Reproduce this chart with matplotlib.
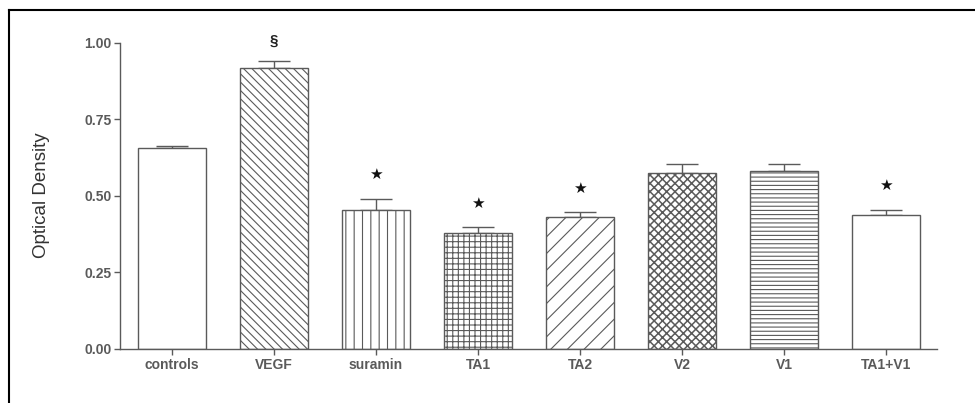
import numpy as np
import matplotlib
matplotlib.use("Agg")
import matplotlib.pyplot as plt
from matplotlib.lines import Line2D

groups = ["controls", "VEGF", "suramin", "TA1", "TA2", "V2", "V1", "TA1+V1"]
means = [0.656, 0.918, 0.453, 0.377, 0.429, 0.574, 0.580, 0.436]
sem = [0.007, 0.023, 0.037, 0.020, 0.017, 0.029, 0.023, 0.017]
marks = ["", "§", "★", "★", "★", "", "", "★"]
hatches = [None, "\\\\\\\\", "||", "+++", "//", "xxxx", "----", None]
yticks = [0.00, 0.25, 0.50, 0.75, 1.00]

plt.rcParams["font.family"] = ["Liberation Sans", "DejaVu Sans"]

grey = "#5a5a5a"
fig = plt.figure(figsize=(9.75, 4.03), dpi=100)
ax = fig.add_axes([0.1231, 0.1347, 0.8379, 0.7598])

x = np.arange(len(groups))
for i in x:
    # the cross-hatched bar is drawn a bit heavier, as in the original
    plt.rcParams["hatch.linewidth"] = 1.1 if hatches[i] == "xxxx" else 0.8
    ax.bar(i, means[i], width=0.67, color="white", edgecolor=grey,
           hatch=hatches[i], linewidth=1.0, zorder=2)
ax.errorbar(x, means, yerr=[np.zeros(len(sem)), sem], fmt="none",
            ecolor=grey, elinewidth=1.0, capsize=11.5, capthick=1.0, zorder=1)

for i in x:
    if marks[i] == "§":
        ax.annotate(marks[i], (i, means[i] + sem[i]), xytext=(0, 9),
                    textcoords="offset points", ha="center", va="bottom",
                    fontsize=11, fontweight="bold", color="#222222")
    elif marks[i]:
        ax.annotate(marks[i], (i, means[i] + sem[i]), xytext=(0, 12),
                    textcoords="offset points", ha="center", va="bottom",
                    fontsize=11, color="#111111", family="DejaVu Sans")

ax.set_xlim(-0.51, 7.5)
ax.set_ylim(0, 1.0)
ax.set_yticks(yticks)
ax.set_yticklabels([f"{t:.2f}" for t in yticks])
ax.set_xticks(x)
ax.set_xticklabels(groups)
for lab in ax.get_xticklabels() + ax.get_yticklabels():
    lab.set_fontweight("bold")
    lab.set_fontsize(10)
    lab.set_color("#2a2a2a")
ax.tick_params(axis="both", colors=grey, length=4, width=1.0)
ax.tick_params(axis="x", pad=3)
ax.tick_params(axis="y", pad=2)
for s in ["top", "right"]:
    ax.spines[s].set_visible(False)
for s in ["left", "bottom"]:
    ax.spines[s].set_color(grey)
    ax.spines[s].set_linewidth(1.0)
ax.set_ylabel("Optical Density", fontsize=13.5, color="#333333", labelpad=25)

# frame lines of the figure panel (top and left only)
fig.add_artist(Line2D([0.0092, 1.0], [0.9740, 0.9740], color="black", lw=1.5,
                      transform=fig.transFigure))
fig.add_artist(Line2D([0.0092, 0.0092], [0.0, 0.9740], color="black", lw=1.5,
                      transform=fig.transFigure))

fig.savefig("out.png", dpi=100)
